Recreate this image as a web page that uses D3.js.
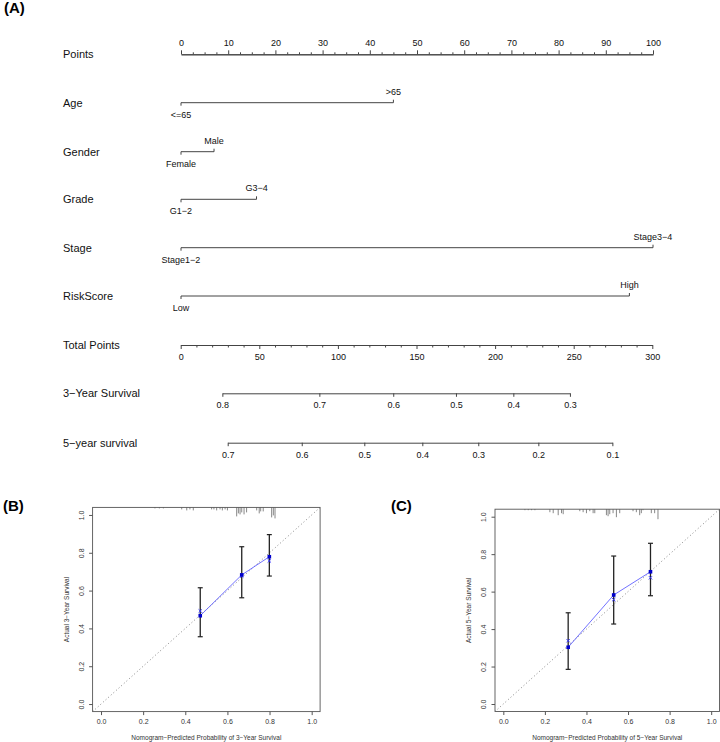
<!DOCTYPE html>
<html><head><meta charset="utf-8">
<script src="https://cdn.jsdelivr.net/npm/d3@7"></script>
<style>
body{margin:0;background:#fff}
svg{display:block}
text{font-family:"Liberation Sans",Arial,Helvetica,sans-serif}
</style>
</head><body>
<svg id="chart" width="720" height="742"></svg>
<script>
// ---------------- DATA ----------------
const rowLabels = ["Points","Age","Gender","Grade","Stage","RiskScore","Total Points","3\u2212Year Survival","5\u2212year survival"];
const pointTicks = [0,10,20,30,40,50,60,70,80,90,100];
const ageLevels = ["<=65", ">65"];           const agePoints = [0, 45];
const genderLevels = ["Female", "Male"];     const genderPoints = [0, 7];
const gradeLevels = ["G1\u22122", "G3\u22124"]; const gradePoints = [0, 16];
const stageLevels = ["Stage1\u22122", "Stage3\u22124"]; const stagePoints = [0, 100];
const riskLevels = ["Low", "High"];          const riskPoints = [0, 95];
const totalTicks = [0,50,100,150,200,250,300];
const surv3Labels = ["0.8","0.7","0.6","0.5","0.4","0.3"];
const surv3Total  = [26.5, 88.2, 135.2, 175.1, 211.6, 247.6];
const surv5Labels = ["0.7","0.6","0.5","0.4","0.3","0.2","0.1"];
const surv5Total  = [29.9, 77.0, 116.8, 153.7, 189.3, 227.5, 274.6];

// Calibration 3-year
const cal3Pred  = [0.471, 0.668, 0.799];
const cal3Obs   = [0.467, 0.683, 0.779];
const cal3Low   = [0.356, 0.562, 0.677];
const cal3High  = [0.615, 0.832, 0.896];
const cal3Corr  = [0.492, 0.677, 0.757];
const rug3Pos   = [0.256,0.277,0.296,0.383,0.407,0.422,0.438,0.525,0.536,0.549,0.565,0.576,0.589,0.600,0.644,0.652,0.660,0.668,0.679,0.691,0.739,0.751,0.758,0.770,0.810,0.818,0.826];
const rug3Freq  = [1,1,1,2,3,2,3,2,2,3,2,3,2,3,9,6,7,5,7,5,3,6,4,4,10,8,11];
// Calibration 5-year
const cal5Pred  = [0.312, 0.531, 0.708];
const cal5Obs   = [0.303, 0.582, 0.706];
const cal5Low   = [0.185, 0.427, 0.578];
const cal5High  = [0.487, 0.790, 0.858];
const cal5Corr  = [0.338, 0.557, 0.674];
const rug5Pos   = [0.104,0.120,0.136,0.152,0.224,0.240,0.264,0.280,0.288,0.368,0.384,0.400,0.416,0.432,0.440,0.496,0.504,0.512,0.528,0.544,0.560,0.624,0.640,0.656,0.664,0.672,0.712,0.728,0.744];
const rug5Freq  = [1,1,1,1,3,4,6,4,5,2,3,4,2,4,4,6,7,5,4,8,4,2,3,6,4,1,4,4,10];
const calTicks = [0,0.2,0.4,0.6,0.8,1.0];

// ---------------- DRAW ----------------
const svg = d3.select("#chart");
const lineCol = "#444";

// Panel labels
[["(A)",4,12.5],["(B)",3,511],["(C)",391,511]].forEach(([t,x,y])=>{
  svg.append("text").attr("x",x).attr("y",y).attr("font-size",15).attr("font-weight","bold").attr("fill","#000").text(t);
});

// Nomogram
const rowY = [54.3,102.7,151.7,199.3,247.7,296,345,393.3,442.7];
const pts = d3.scaleLinear().domain([0,100]).range([181,653]);
const tot = d3.scaleLinear().domain([0,300]).range([180.7,652.3]);
const nom = svg.append("g");

rowLabels.forEach((lab,i)=>{
  nom.append("text").attr("x",63).attr("y",rowY[i]).attr("dy","0.35em")
    .attr("font-size",11).attr("fill","#111").text(lab);
});

function styleAxis(g, fs){
  g.selectAll("path").attr("stroke",lineCol);
  g.selectAll("line").attr("stroke",lineCol);
  g.selectAll("text").attr("font-size",fs).attr("fill","#111").attr("font-family",'"Liberation Sans",Arial,sans-serif');
}

// Points axis
const pMinor = d3.range(0,100.01,2.5).filter(v=>v%10!==0);
const gMinor = nom.append("g").attr("transform",`translate(0,${rowY[0]})`)
  .call(d3.axisTop(pts).tickValues(pMinor).tickSize(2).tickSizeOuter(0).tickFormat(""));
styleAxis(gMinor,9);
const gPts = nom.append("g").attr("transform",`translate(0,${rowY[0]})`)
  .call(d3.axisTop(pts).tickValues(pointTicks).tickSize(4).tickPadding(4).tickSizeOuter(0));
styleAxis(gPts,9);

// Categorical rows
const cats = [[ageLevels,agePoints],[genderLevels,genderPoints],[gradeLevels,gradePoints],[stageLevels,stagePoints],[riskLevels,riskPoints]];
cats.forEach(([levs,pv],k)=>{
  const y = rowY[k+1];
  const x0 = pts(pv[0]), x1 = pts(pv[1]);
  const g = nom.append("g");
  g.append("line").attr("x1",x0).attr("x2",x1).attr("y1",y).attr("y2",y).attr("stroke",lineCol);
  g.append("line").attr("x1",x0).attr("x2",x0).attr("y1",y).attr("y2",y+3).attr("stroke",lineCol);
  g.append("line").attr("x1",x1).attr("x2",x1).attr("y1",y).attr("y2",y-3).attr("stroke",lineCol);
  g.append("text").attr("x",x0).attr("y",y+12).attr("dy","0.35em").attr("text-anchor","middle")
    .attr("font-size",9).attr("fill","#111").text(levs[0]);
  g.append("text").attr("x",x1).attr("y",y-11).attr("dy","0.35em").attr("text-anchor","middle")
    .attr("font-size",9).attr("fill","#111").text(levs[1]);
});

// Total points axis
const tMinor = d3.range(0,300.01,10).filter(v=>v%50!==0);
const gTMinor = nom.append("g").attr("transform",`translate(0,${rowY[6]})`)
  .call(d3.axisBottom(tot).tickValues(tMinor).tickSize(2.5).tickSizeOuter(0).tickFormat(""));
styleAxis(gTMinor,9);
const gTot = nom.append("g").attr("transform",`translate(0,${rowY[6]})`)
  .call(d3.axisBottom(tot).tickValues(totalTicks).tickSize(4).tickPadding(4.5).tickSizeOuter(0));
styleAxis(gTot,9);

// Survival axes
function survAxis(labels, totals, y){
  const s = d3.scaleLinear().domain([totals[0], totals[totals.length-1]]).range([tot(totals[0]), tot(totals[totals.length-1])]);
  const g = nom.append("g").attr("transform",`translate(0,${y})`)
    .call(d3.axisBottom(s).tickValues(totals).tickSize(3.5).tickPadding(5).tickSizeOuter(0)
      .tickFormat((d,i)=>labels[i]));
  styleAxis(g,9);
}
survAxis(surv3Labels, surv3Total, rowY[7]);
survAxis(surv5Labels, surv5Total, rowY[8]);

// Calibration panels
function calPanel(box, pred, obs, lo, hi, corr, rugPos, rugFreq, yTitle, xTitle){
  const x = d3.scaleLinear().domain([-0.04,1.04]).range([box.l, box.r]);
  const y = d3.scaleLinear().domain([-0.04,1.04]).range([box.b, box.t]);
  const g = svg.append("g");
  const clipId = "clip"+Math.round(box.l);
  g.append("clipPath").attr("id",clipId).append("rect")
    .attr("x",box.l).attr("y",box.t).attr("width",box.r-box.l).attr("height",box.b-box.t);
  // diagonal
  g.append("line").attr("clip-path",`url(#${clipId})`)
    .attr("x1",x(-0.04)).attr("y1",y(-0.04)).attr("x2",x(1.04)).attr("y2",y(1.04))
    .attr("stroke","#666").attr("stroke-width",0.8).attr("stroke-dasharray","1,2.5");
  // rug
  g.selectAll(".rug").data(rugPos).join("line")
    .attr("x1",d=>x(d)).attr("x2",d=>x(d)).attr("y1",box.t)
    .attr("y2",(d,i)=>box.t+rugFreq[i]*1.0).attr("stroke","#555").attr("stroke-width",0.7);
  // blue line
  g.append("path").datum(pred.map((p,i)=>[p,obs[i]]))
    .attr("d",d3.line().x(d=>x(d[0])).y(d=>y(d[1])))
    .attr("fill","none").attr("stroke","#6262ff").attr("stroke-width",0.9);
  // error bars
  pred.forEach((p,i)=>{
    const cx = x(p);
    g.append("line").attr("x1",cx).attr("x2",cx).attr("y1",y(lo[i])).attr("y2",y(hi[i])).attr("stroke","#222").attr("stroke-width",1.3);
    [lo[i],hi[i]].forEach(v=>{
      g.append("line").attr("x1",cx-2.5).attr("x2",cx+2.5).attr("y1",y(v)).attr("y2",y(v)).attr("stroke","#222").attr("stroke-width",1.2);
    });
  });
  // corrected x marks
  corr.forEach((c,i)=>{
    const cx = x(pred[i]), cy = y(c), r=1.7;
    g.append("path").attr("d",`M${cx-r},${cy-r}L${cx+r},${cy+r}M${cx-r},${cy+r}L${cx+r},${cy-r}`)
      .attr("stroke","#3333ff").attr("stroke-width",0.9);
  });
  // observed points
  g.selectAll(".pt").data(pred).join("rect")
    .attr("x",d=>x(d)-1.8).attr("y",(d,i)=>y(obs[i])-1.8).attr("width",3.6).attr("height",3.6)
    .attr("fill","#0000cc");
  // box
  g.append("rect").attr("x",box.l).attr("y",box.t).attr("width",box.r-box.l).attr("height",box.b-box.t)
    .attr("fill","none").attr("stroke","#555").attr("stroke-width",0.9);
  // axes
  const ax = g.append("g").attr("transform",`translate(0,${box.b})`)
    .call(d3.axisBottom(x).tickValues(calTicks).tickSize(3.5).tickPadding(4).tickSizeOuter(0).tickFormat(d3.format(".1f")));
  ax.select(".domain").remove();
  ax.selectAll("line").attr("stroke","#555");
  ax.selectAll("text").attr("font-size",7).attr("fill","#333");
  const ay = g.append("g").attr("transform",`translate(${box.l},0)`)
    .call(d3.axisLeft(y).tickValues(calTicks).tickSize(3.5).tickSizeOuter(0).tickFormat(d3.format(".1f")));
  ay.select(".domain").remove();
  ay.selectAll("line").attr("stroke","#555");
  ay.selectAll("text").attr("x",null).attr("dy",null).attr("font-size",7).attr("fill","#333")
    .attr("text-anchor","middle").attr("dominant-baseline","central")
    .attr("transform","translate(-11.5,0) rotate(-90)");
  // titles
  g.append("text").attr("x",(box.l+box.r)/2).attr("y",739.5).attr("text-anchor","middle")
    .attr("font-size",6.5).attr("fill","#333").text(xTitle);
  g.append("text").attr("transform",`translate(${box.l-26.5},${(box.t+box.b)/2}) rotate(-90)`)
    .attr("text-anchor","middle").attr("dominant-baseline","central")
    .attr("font-size",6.5).attr("fill","#333").text(yTitle);
}
calPanel({l:92.6,r:320.1,t:507.4,b:711.6}, cal3Pred, cal3Obs, cal3Low, cal3High, cal3Corr, rug3Pos, rug3Freq,
  "Actual 3\u2212Year Survival", "Nomogram\u2212Predicted Probability of 3\u2212Year Survival");
calPanel({l:495,r:719.5,t:509.2,b:711.5}, cal5Pred, cal5Obs, cal5Low, cal5High, cal5Corr, rug5Pos, rug5Freq,
  "Actual 5\u2212Year Survival", "Nomogram\u2212Predicted Probability of 5\u2212Year Survival");
</script>
</body></html>
